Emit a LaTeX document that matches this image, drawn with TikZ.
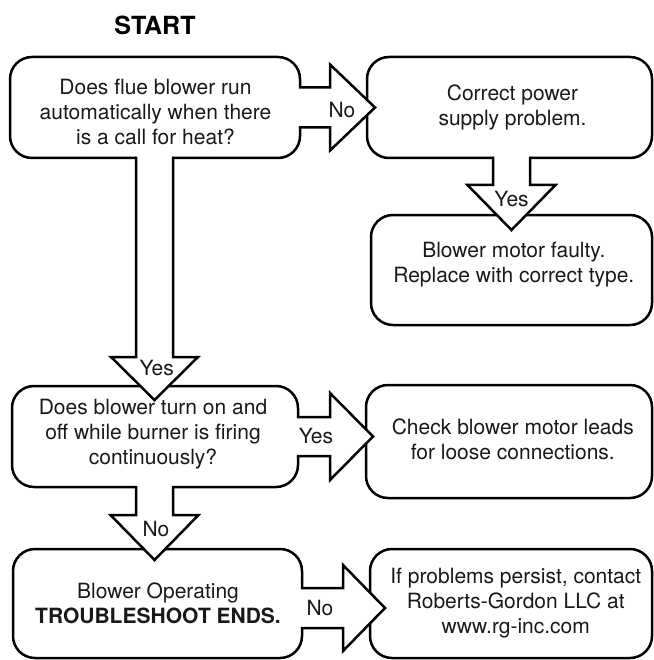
\documentclass[tikz,border=0pt]{standalone}
\usepackage{fontspec}
\setmainfont{TeX Gyre Heros}
\usetikzlibrary{calc}
\newcommand\rightblock[5]{% #1 start, #2 shaft length, #3 head length, #4 shaft half width, #5 head half width
  \begin{scope}[shift={(#1)}]
    \fill[white] (-1.8,-#4) -- (#2,-#4) -- (#2,-#5) -- ({#2+#3},0) -- (#2,#5) -- (#2,#4) -- (-1.8,#4) -- cycle;
    \draw (-1.25,-#4) -- (#2,-#4) -- (#2,-#5) -- ({#2+#3},0) -- (#2,#5) -- (#2,#4) -- (-1.25,#4);
  \end{scope}}
\newcommand\downblock[5]{%
  \begin{scope}[shift={(#1)}]
    \fill[white] (-#4,-1.8) -- (-#4,#2) -- (-#5,#2) -- (0,{#2+#3}) -- (#5,#2) -- (#4,#2) -- (#4,-1.8) -- cycle;
    \draw (-#4,-1.25) -- (-#4,#2) -- (-#5,#2) -- (0,{#2+#3}) -- (#5,#2) -- (#4,#2) -- (#4,-1.25);
  \end{scope}}
\begin{document}
\begin{tikzpicture}[x=1pt,y=-1pt,line width=2.5pt,line join=miter,
  box/.style={draw,rounded corners=22pt,outer sep=0pt,inner sep=0pt},
  txt/.style={align=center,inner sep=0pt,font=\fontsize{21}{25}\selectfont,text=black!90},
  lbl/.style={inner sep=0pt,font=\fontsize{21}{25}\selectfont,text=black!90}]
\useasboundingbox (0,0) rectangle (653,660);

\node[font=\fontsize{25}{30}\selectfont\bfseries] (start) at (155,25) {START};

\node[box,minimum width=290pt,minimum height=101pt] (b1) at (155,107.5) {};
\node[box,minimum width=285pt,minimum height=101pt] (b2) at (509.5,107.5) {};
\node[box,minimum width=281pt,minimum height=110pt] (b3) at (511.5,270) {};
\node[box,minimum width=286pt,minimum height=101pt] (b4) at (155,436.5) {};
\node[box,minimum width=286pt,minimum height=113pt] (b5) at (509,441.5) {};
\node[box,minimum width=289pt,minimum height=109pt] (b6) at (157.5,603.5) {};
\node[box,minimum width=282pt,minimum height=109pt] (b7) at (511,603.5) {};

\node[txt] (t1) at (155.5,112) {Does flue blower run\\automatically when there\\is a call for heat?};
\node[txt] (t2) at (512.5,107.5) {Correct power\\supply problem.};
\node[txt] (t3) at (513.8,264.5) {Blower motor faulty.\\Replace with correct type.};
\node[txt] (t4) at (153,434) {Does blower turn on and\\off while burner is firing\\continuously?};
\node[txt] (t5) at (512.8,439.5) {Check blower motor leads\\for loose connections.};
\node[txt] (t6) at (158,603.5) {Blower Operating\\\textbf{TROUBLESHOOT ENDS.}};
\node[txt] (t7) at (515.8,603.5) {If problems persist, contact\\Roberts-Gordon LLC at\\www.rg-inc.com};

\rightblock{b1.east}{30}{45}{20}{43}
\downblock{$(b2.south)+(2,0)$}{27}{45}{18.5}{44}
\downblock{$(b1.south)+(-0.5,0)$}{199}{43}{18.5}{43.5}
\rightblock{b4.east}{32}{43}{19.5}{43.5}
\downblock{$(b4.south)+(-0.5,0)$}{28}{45}{18.5}{44}
\rightblock{$(b6.east)+(0,4.5)$}{41}{42}{20}{43}

\node[lbl] (l1) at (342,110) {No};
\node[lbl] (l2) at (511.5,199) {Yes};
\node[lbl] (l3) at (156.7,368) {Yes};
\node[lbl] (l4) at (316,436) {Yes};
\node[lbl] (l5) at (156,529) {No};
\node[lbl] (l6) at (320,608) {No};
\end{tikzpicture}
\end{document}
